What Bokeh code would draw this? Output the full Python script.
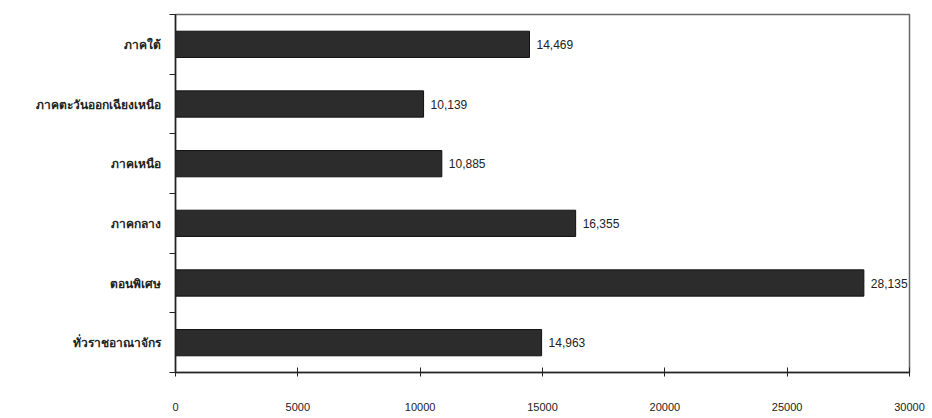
from bokeh.plotting import figure
from bokeh.models import FixedTicker, ColumnDataSource
from bokeh.core.properties import value
from bokeh.embed import file_html
from bokeh.resources import INLINE

# Data (bottom to top)
regions = ["ทั่วราชอาณาจักร", "ตอนพิเศษ", "ภาคกลาง", "ภาคเหนือ", "ภาคตะวันออกเฉียงเหนือ", "ภาคใต้"]
values = [14963, 28135, 16355, 10885, 10139, 14469]
value_labels = ["14,963", "28,135", "16,355", "10,885", "10,139", "14,469"]
x_ticks = [0, 5000, 10000, 15000, 20000, 25000, 30000]

pos = [i + 0.5 for i in range(len(regions))]
bounds = list(range(len(regions) + 1))

src = ColumnDataSource(dict(y=pos, v=values, lab=value_labels))

p = figure(width=930, height=416, output_backend="svg", toolbar_location=None,
           x_range=(0, 30000), y_range=(0, len(regions)),
           min_border_left=175, min_border_top=14, min_border_right=21, min_border_bottom=44)
p.frame_width = 734
p.frame_height = 358
p.background_fill_color = "white"
p.border_fill_color = "white"
p.outline_line_color = "#666666"
p.outline_line_width = 1.5
p.grid.visible = False

p.hbar(y="y", right="v", left=0, height=0.44, source=src,
       fill_color="#2c2c2c", line_color="#111111", line_width=1)

p.text(x="v", y="y", text="lab", source=src, x_offset=7,
       text_baseline="middle", text_align="left",
       text_font=value("Liberation Sans"), text_font_size="12px", text_color="#222222")

xa = p.xaxis[0]
xa.ticker = FixedTicker(ticks=x_ticks)
xa.major_tick_in = 5
xa.major_tick_out = 4
xa.minor_tick_line_color = None
xa.major_label_standoff = 26
xa.major_label_text_font = "Liberation Sans"
xa.major_label_text_font_size = "11px"
xa.major_label_text_color = "#222222"
xa.axis_line_color = "#222222"
xa.axis_line_width = 1.5
xa.major_tick_line_color = "#222222"

ya = p.yaxis[0]
ya.ticker = FixedTicker(ticks=pos, minor_ticks=bounds)
ya.major_label_overrides = {pp: r for pp, r in zip(pos, regions)}
ya.major_tick_out = 0
ya.major_tick_in = 0
ya.minor_tick_out = 6
ya.minor_tick_in = 0
ya.minor_tick_line_color = "#222222"
ya.major_label_standoff = 9
ya.major_label_text_font = "Noto Sans"
ya.major_label_text_font_style = "bold"
ya.major_label_text_font_size = "12px"
ya.major_label_text_color = "#222222"
ya.axis_line_color = "#222222"
ya.axis_line_width = 1.5

open("out.html", "w").write(file_html(p, INLINE))
